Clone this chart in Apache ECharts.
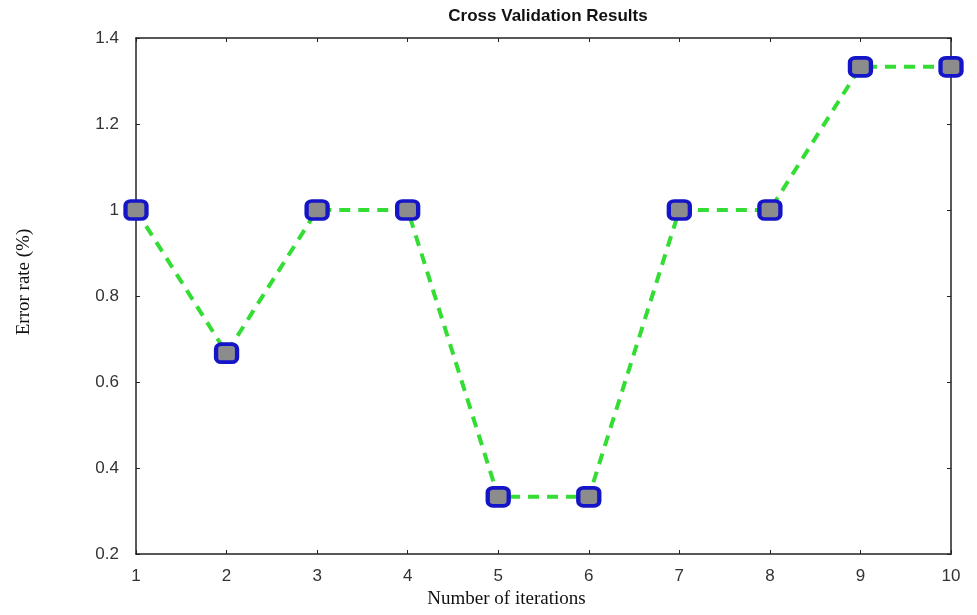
<!DOCTYPE html>
<html>
<head>
<meta charset="utf-8">
<script src="https://cdn.jsdelivr.net/npm/echarts@6/dist/echarts.min.js"></script>
<style>
html, body { margin: 0; padding: 0; background: #fff; }
#chart { width: 977px; height: 615px; }
</style>
</head>
<body>
<div id="chart"></div>
<script>
'use strict';

var iterations = [1, 2, 3, 4, 5, 6, 7, 8, 9, 10],
    errorRate = [1, 0.667, 1, 1, 0.333, 0.333, 1, 1, 1.333, 1.333],
    yTicks = ['0.2', '0.4', '0.6', '0.8', '1', '1.2', '1.4'];

var chart = echarts.init(document.getElementById('chart'));

var labelStyle = {
    color: '#333',
    fontFamily: 'Liberation Sans, Arial, sans-serif',
    fontSize: 17
};

var option = {
    animation: false,
    backgroundColor: '#fff',
    title: {
        text: 'Cross Validation Results',
        left: 543,
        textAlign: 'center',
        top: 3,
        textStyle: {
            color: '#111',
            fontFamily: 'Liberation Sans, Arial, sans-serif',
            fontWeight: 'bold',
            fontSize: 17
        }
    },
    grid: {
        left: 136,
        right: 26,
        top: 38,
        bottom: 61,
        containLabel: false
    },
    xAxis: [{
        type: 'value',
        min: 1,
        max: 10,
        interval: 1,
        name: 'Number of iterations',
        nameLocation: 'middle',
        nameGap: 36,
        nameTextStyle: {
            color: '#111',
            fontFamily: 'Liberation Serif, Times New Roman, serif',
            fontSize: 19,
            padding: [0, 74, 0, 0]
        },
        axisLine: { lineStyle: { color: '#222', width: 1.5 } },
        axisTick: { inside: true, length: 4, lineStyle: { color: '#222' } },
        axisLabel: Object.assign({ margin: 14 }, labelStyle),
        splitLine: { show: false }
    }, {
        type: 'value',
        position: 'top',
        min: 1,
        max: 10,
        interval: 1,
        axisLine: { lineStyle: { color: '#222', width: 1.5 } },
        axisTick: { inside: true, length: 4, lineStyle: { color: '#222' } },
        axisLabel: { show: false },
        splitLine: { show: false }
    }],
    yAxis: [{
        type: 'value',
        min: 0.2,
        max: 1.4,
        interval: 0.2,
        name: 'Error rate (%)',
        nameLocation: 'middle',
        nameGap: 102,
        nameRotate: 90,
        nameTextStyle: {
            color: '#111',
            fontFamily: 'Liberation Serif, Times New Roman, serif',
            fontSize: 19,
            padding: [0, 0, 0, 28]
        },
        axisLine: { lineStyle: { color: '#222', width: 1.5 } },
        axisTick: { inside: true, length: 4, lineStyle: { color: '#222' } },
        axisLabel: Object.assign({
            margin: 17,
            formatter: function (v) {
                return yTicks[Math.round((v - 0.2) / 0.2)];
            }
        }, labelStyle),
        splitLine: { show: false }
    }, {
        type: 'value',
        position: 'right',
        min: 0.2,
        max: 1.4,
        interval: 0.2,
        axisLine: { lineStyle: { color: '#222', width: 1.5 } },
        axisTick: { inside: true, length: 4, lineStyle: { color: '#222' } },
        axisLabel: { show: false },
        splitLine: { show: false }
    }],
    series: [{
        name: 'Error rate',
        type: 'line',
        xAxisIndex: 0,
        yAxisIndex: 0,
        data: iterations.map(function (x, i) { return [x, errorRate[i]]; }),
        symbol: 'roundRect',
        symbolSize: [21, 18],
        showAllSymbol: true,
        clip: false,
        itemStyle: {
            color: '#8c8c8c',
            borderColor: '#1414c8',
            borderWidth: 4
        },
        lineStyle: {
            color: '#33dd33',
            width: 4,
            type: [11, 8]
        },
        z: 3
    }]
};

chart.setOption(option);
</script>
</body>
</html>
